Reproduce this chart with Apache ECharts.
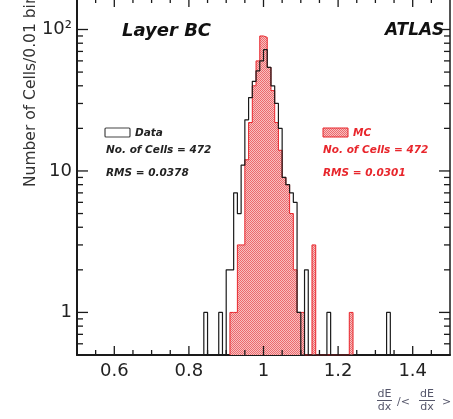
<!DOCTYPE html>
<html>
<head>
<meta charset="utf-8">
<script src="https://cdn.jsdelivr.net/npm/echarts@6/dist/echarts.min.js"></script>
<style>
  html, body { margin: 0; padding: 0; background: #fff; }
  #main { width: 453px; height: 419px; }
</style>
</head>
<body>
<div id="main"></div>
<script>
// bin low edges (bin width 0.01) and counts
const binWidth = 0.01;
const dataBins = [0.84, 0.88, 0.90, 0.91, 0.92, 0.93, 0.94, 0.95, 0.96, 0.97, 0.98, 0.99, 1.00,
  1.01, 1.02, 1.03, 1.04, 1.05, 1.06, 1.07, 1.08, 1.09, 1.11, 1.17, 1.33];
const dataCounts = [1, 1, 2, 2, 7, 5, 11, 23, 33, 43, 51, 60, 72,
  54, 40, 30, 20, 9, 8, 7, 6, 1, 2, 1, 1];
const mcBins = [0.91, 0.92, 0.93, 0.94, 0.95, 0.96, 0.97, 0.98, 0.99, 1.00, 1.01,
  1.02, 1.03, 1.04, 1.05, 1.06, 1.07, 1.08, 1.09, 1.10, 1.13, 1.23];
const mcCounts = [1, 1, 3, 3, 12, 22, 40, 60, 90, 88, 54,
  37, 22, 14, 9, 8, 5, 2, 1, 1, 3, 1];

const xMajor = [0.6, 0.8, 1.0, 1.2, 1.4];
const xMinor = [0.55, 0.65, 0.7, 0.75, 0.85, 0.9, 0.95, 1.05, 1.1, 1.15, 1.25, 1.3, 1.35, 1.45];
const yMajor = [1, 10, 100];
const yMinor = [0.6, 0.7, 0.8, 0.9, 2, 3, 4, 5, 6, 7, 8, 9, 20, 30, 40, 50, 60, 70, 80, 90];

const xMin = 0.5, xMax = 1.5, yMin = 0.5, yMax = 167;
const font = 'DejaVu Sans';
const mcRed = '#e8262c';
const ink = '#1a1a1a';

// histogram outline as step points, empty bins drop to the axis floor
function outline(bins, counts) {
  const pts = [];
  let prevHi = null;
  bins.forEach(function (b, k) {
    const lo = +b.toFixed(2);
    const hi = +(b + binWidth).toFixed(2);
    if (prevHi === null || Math.abs(prevHi - lo) > 1e-6) {
      if (prevHi !== null) pts.push([prevHi, yMin]);
      pts.push([lo, yMin]);
    }
    pts.push([lo, counts[k]]);
    pts.push([hi, counts[k]]);
    prevHi = hi;
  });
  pts.push([prevHi, yMin]);
  return pts;
}

// tick marks on all four sides: [x, y, kind (0 = x tick, 1 = y tick), length]
const tickData = []
  .concat(xMajor.map(v => [v, 1, 0, 9]))
  .concat(xMinor.map(v => [v, 1, 0, 5]))
  .concat(yMajor.map(v => [1, v, 1, 11]))
  .concat(yMinor.map(v => [1, v, 1, 6]));

function renderTick(params, api) {
  const kind = api.value(2), len = api.value(3);
  let a, b;
  if (kind === 0) {
    const v = api.value(0);
    const p = api.coord([v, yMin]), q = api.coord([v, yMax]);
    a = { x1: p[0], y1: p[1], x2: p[0], y2: p[1] - len };
    b = { x1: q[0], y1: q[1], x2: q[0], y2: q[1] + len };
  } else {
    const v = api.value(1);
    const p = api.coord([xMin, v]), q = api.coord([xMax, v]);
    a = { x1: p[0], y1: p[1], x2: p[0] + len, y2: p[1] };
    b = { x1: q[0], y1: q[1], x2: q[0] - len, y2: q[1] };
  }
  return {
    type: 'group',
    children: [
      { type: 'line', shape: a, style: { stroke: ink, lineWidth: 1.3 } },
      { type: 'line', shape: b, style: { stroke: ink, lineWidth: 1.3 } }
    ]
  };
}

// dotted red fill like the ROOT hatch
const pat = document.createElement('canvas');
pat.width = 2; pat.height = 2;
const pctx = pat.getContext('2d');
pctx.fillStyle = '#f8c0c0'; pctx.fillRect(0, 0, 2, 2);
pctx.fillStyle = '#ec6a6e'; pctx.fillRect(0, 0, 1, 1); pctx.fillRect(1, 1, 1, 1);
const mcFill = { image: pat, repeat: 'repeat' };

function xAx(pos, main) {
  return {
    type: 'value', min: xMin, max: xMax, position: pos,
    axisLine: { show: true, lineStyle: { color: ink, width: main ? 2 : 1.5 } },
    axisTick: { show: false },
    axisLabel: {
      show: main, customValues: xMajor, margin: 7,
      fontSize: 18, fontFamily: font, color: '#222',
      formatter: function (v) { return Math.abs(v - 1) < 1e-9 ? '1' : v.toFixed(1); }
    },
    splitLine: { show: false }
  };
}
function yAx(pos, main) {
  return {
    type: 'log', min: yMin, max: yMax, position: pos,
    axisLine: { show: true, lineStyle: { color: ink, width: main ? 2 : 1.5 } },
    axisTick: { show: false },
    axisLabel: {
      show: main, customValues: yMajor, margin: 5,
      fontSize: 18, fontFamily: font, color: '#222',
      formatter: function (v) { const r = Math.round(v); return r === 100 ? '10²' : String(r); }
    },
    splitLine: { show: false }
  };
}

const chart = echarts.init(document.getElementById('main'));
chart.setOption({
  animation: false,
  grid: { left: 77, right: 3, top: -2, bottom: 64, outerBoundsMode: 'none' },
  xAxis: [xAx('bottom', true), xAx('top', false)],
  yAxis: [yAx('left', true), yAx('right', false)],
  series: [
    {
      name: 'MC', type: 'line', xAxisIndex: 0, yAxisIndex: 0,
      data: outline(mcBins, mcCounts), symbol: 'none', silent: true,
      lineStyle: { color: mcRed, width: 1 },
      areaStyle: { color: mcFill, opacity: 1, origin: 'start' }
    },
    {
      name: 'Data', type: 'line', xAxisIndex: 0, yAxisIndex: 0,
      data: outline(dataBins, dataCounts), symbol: 'none', silent: true,
      lineStyle: { color: ink, width: 1.2 }
    },
    {
      name: 'ticks', type: 'custom', xAxisIndex: 0, yAxisIndex: 0,
      data: tickData, renderItem: renderTick, silent: true, z: 5,
      encode: { x: 0, y: 1 }
    }
  ],
  graphic: [
    { type: 'text', x: 31, y: 187, rotation: Math.PI / 2,
      style: { text: 'Number of Cells/0.01 bin', fontSize: 15.5, fontFamily: font, fill: '#333', align: 'left', verticalAlign: 'middle' } },
    { type: 'text', x: 122, y: 31,
      style: { text: 'Layer BC', fontSize: 18, fontFamily: font, fontWeight: 'bold', fontStyle: 'italic', fill: '#111', verticalAlign: 'middle' } },
    { type: 'text', x: 385, y: 31,
      style: { text: 'ATLAS', fontSize: 17, fontFamily: font, fontWeight: 'bold', fontStyle: 'italic', fill: '#111', verticalAlign: 'middle' } },
    // legend: data
    { type: 'rect', shape: { x: 105, y: 128, width: 25, height: 9, r: 1 },
      style: { fill: '#fff', stroke: '#444', lineWidth: 1.2 } },
    { type: 'text', x: 135, y: 133,
      style: { text: 'Data', fontSize: 10.5, fontFamily: font, fontWeight: 'bold', fontStyle: 'italic', fill: '#222', verticalAlign: 'middle' } },
    { type: 'text', x: 106, y: 150,
      style: { text: 'No. of Cells = 472', fontSize: 10.5, fontFamily: font, fontWeight: 'bold', fontStyle: 'italic', fill: '#222', verticalAlign: 'middle' } },
    { type: 'text', x: 106, y: 173,
      style: { text: 'RMS = 0.0378', fontSize: 10.5, fontFamily: font, fontWeight: 'bold', fontStyle: 'italic', fill: '#222', verticalAlign: 'middle' } },
    // legend: MC
    { type: 'rect', shape: { x: 323, y: 128, width: 25, height: 9 },
      style: { fill: mcFill, stroke: mcRed, lineWidth: 1 } },
    { type: 'text', x: 353, y: 133,
      style: { text: 'MC', fontSize: 10.5, fontFamily: font, fontWeight: 'bold', fontStyle: 'italic', fill: mcRed, verticalAlign: 'middle' } },
    { type: 'text', x: 323, y: 150,
      style: { text: 'No. of Cells = 472', fontSize: 10.5, fontFamily: font, fontWeight: 'bold', fontStyle: 'italic', fill: mcRed, verticalAlign: 'middle' } },
    { type: 'text', x: 323, y: 173,
      style: { text: 'RMS = 0.0301', fontSize: 10.5, fontFamily: font, fontWeight: 'bold', fontStyle: 'italic', fill: mcRed, verticalAlign: 'middle' } },
    // x axis title: dE/dx / <dE/dx>
    { type: 'group', children: [
      { type: 'text', x: 384.5, y: 394, style: { text: 'dE', fontSize: 11, fontFamily: font, fill: '#55566a', align: 'center', verticalAlign: 'middle' } },
      { type: 'line', shape: { x1: 377, y1: 400.5, x2: 392, y2: 400.5 }, style: { stroke: '#55566a', lineWidth: 1 } },
      { type: 'text', x: 384.5, y: 407, style: { text: 'dx', fontSize: 11, fontFamily: font, fill: '#55566a', align: 'center', verticalAlign: 'middle' } },
      { type: 'text', x: 397, y: 402, style: { text: '/<', fontSize: 11, fontFamily: font, fill: '#55566a', verticalAlign: 'middle' } },
      { type: 'text', x: 427, y: 394, style: { text: 'dE', fontSize: 11, fontFamily: font, fill: '#55566a', align: 'center', verticalAlign: 'middle' } },
      { type: 'line', shape: { x1: 419, y1: 400.5, x2: 435, y2: 400.5 }, style: { stroke: '#55566a', lineWidth: 1 } },
      { type: 'text', x: 427, y: 407, style: { text: 'dx', fontSize: 11, fontFamily: font, fill: '#55566a', align: 'center', verticalAlign: 'middle' } },
      { type: 'text', x: 442, y: 402, style: { text: '>', fontSize: 11, fontFamily: font, fill: '#55566a', verticalAlign: 'middle' } }
    ] }
  ]
});
</script>
</body>
</html>
